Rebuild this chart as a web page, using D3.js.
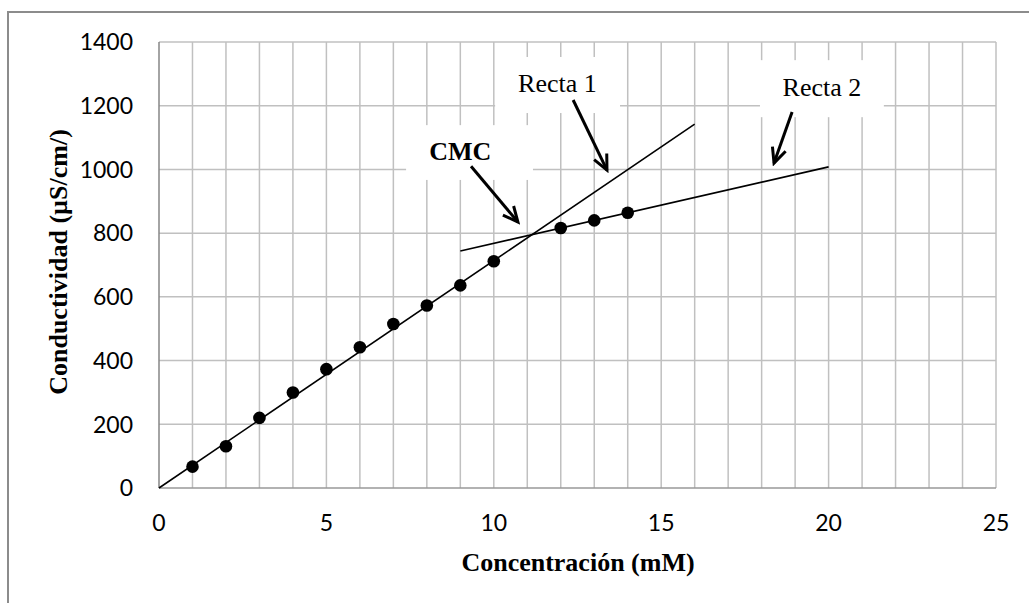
<!DOCTYPE html>
<html>
<head>
<meta charset="utf-8">
<script src="https://cdn.jsdelivr.net/npm/d3@7"></script>
<style>
  body { margin: 0; background: #fff; }
</style>
</head>
<body>
<div id="chart"></div>
<script>
'use strict';

// measured points (mM, µS/cm)
const concentracion = [1, 2, 3, 4, 5, 6, 7, 8, 9, 10, 12, 13, 14];
const conductividad = [67, 131, 220, 300, 373, 442, 515, 573, 636, 712, 816, 840, 864];

// fitted lines, end points
const recta1X = [0, 16];
const recta1Y = [0, 1142];
const recta2X = [9, 20];
const recta2Y = [744, 1008];

const xTicks = [0, 5, 10, 15, 20, 25];
const yTicks = [0, 200, 400, 600, 800, 1000, 1200, 1400];

// label boxes and arrows, in data units
const labels = [
  { text: 'Recta 1', bold: false, box: [10.04, 13.77, 1353, 1177], at: [11.9, 1243], from: [12.37, 1218], to: [13.38, 998] },
  { text: 'Recta 2', bold: false, box: [17.95, 21.65, 1343, 1164], at: [19.8, 1230], from: [18.91, 1180], to: [18.37, 1020] },
  { text: 'CMC', bold: true, box: [7.38, 11.17, 1139, 967], at: [9.0, 1029], from: [9.32, 1010], to: [10.72, 835] },
];

const width = 1029;
const height = 603;
const margin = { top: 42, right: 33, bottom: 115, left: 159 };

const x = d3.scaleLinear([0, 25], [margin.left, width - margin.right]);
const y = d3.scaleLinear([0, 1400], [height - margin.bottom, margin.top]);

const svg = d3.select('#chart')
  .append('svg')
  .attr('width', width)
  .attr('height', height);

svg.append('defs')
  .append('marker')
  .attr('id', 'arrow')
  .attr('viewBox', '0 0 20 20')
  .attr('markerUnits', 'userSpaceOnUse')
  .attr('markerWidth', 20)
  .attr('markerHeight', 20)
  .attr('refX', 17)
  .attr('refY', 10)
  .attr('orient', 'auto')
  .append('path')
  .attr('d', 'M2,3 L17,10 L2,17')
  .attr('fill', 'none')
  .attr('stroke', 'black')
  .attr('stroke-width', 3);

// outer chart border
svg.append('rect')
  .attr('x', 8)
  .attr('y', 12)
  .attr('width', width + 20)
  .attr('height', height + 20)
  .attr('fill', 'none')
  .attr('stroke', '#8c8c8c')
  .attr('stroke-width', 2);

// grid
svg.append('g')
  .selectAll('line')
  .data(d3.range(1, 26))
  .join('line')
  .attr('x1', (d) => x(d))
  .attr('x2', (d) => x(d))
  .attr('y1', y(0))
  .attr('y2', y(1400))
  .attr('stroke', '#c0c0c0')
  .attr('stroke-width', 1.5);

svg.append('g')
  .selectAll('line')
  .data(yTicks.slice(1))
  .join('line')
  .attr('x1', x(0))
  .attr('x2', x(25))
  .attr('y1', (d) => y(d))
  .attr('y2', (d) => y(d))
  .attr('stroke', '#c0c0c0')
  .attr('stroke-width', 1.5);

// axis lines
svg.append('line')
  .attr('x1', x(0)).attr('x2', x(0))
  .attr('y1', y(0)).attr('y2', y(1400))
  .attr('stroke', '#868686')
  .attr('stroke-width', 1.5);
svg.append('line')
  .attr('x1', x(0)).attr('x2', x(25))
  .attr('y1', y(0)).attr('y2', y(0))
  .attr('stroke', '#999')
  .attr('stroke-width', 1.5);

// tick labels
svg.append('g')
  .selectAll('text')
  .data(yTicks)
  .join('text')
  .attr('x', x(0) - 26)
  .attr('y', (d) => y(d))
  .attr('dy', '0.36em')
  .attr('text-anchor', 'end')
  .attr('font-family', 'Lato, sans-serif')
  .attr('font-size', '23px')
  .attr('fill', 'black')
  .text((d) => d);

svg.append('g')
  .selectAll('text')
  .data(xTicks)
  .join('text')
  .attr('x', (d) => x(d))
  .attr('y', y(0) + 35)
  .attr('dy', '0.36em')
  .attr('text-anchor', 'middle')
  .attr('font-family', 'Lato, sans-serif')
  .attr('font-size', '23px')
  .attr('fill', 'black')
  .text((d) => d);

// axis titles
svg.append('text')
  .attr('x', 578)
  .attr('y', 571)
  .attr('text-anchor', 'middle')
  .attr('font-family', '"Liberation Serif", "Times New Roman", serif')
  .attr('font-weight', 'bold')
  .attr('font-size', '26px')
  .text('Concentración (mM)');

svg.append('text')
  .attr('transform', 'translate(67, 262) rotate(-90)')
  .attr('text-anchor', 'middle')
  .attr('font-family', '"Liberation Serif", "Times New Roman", serif')
  .attr('font-weight', 'bold')
  .attr('font-size', '26px')
  .text('Conductividad (µS/cm/)');

// white label boxes hide the grid
svg.append('g')
  .selectAll('rect')
  .data(labels)
  .join('rect')
  .attr('x', (d) => x(d.box[0]))
  .attr('y', (d) => y(d.box[2]))
  .attr('width', (d) => x(d.box[1]) - x(d.box[0]))
  .attr('height', (d) => y(d.box[3]) - y(d.box[2]))
  .attr('fill', 'white');

// fitted lines
const fits = [
  { xs: recta1X, ys: recta1Y },
  { xs: recta2X, ys: recta2Y },
];
svg.append('g')
  .selectAll('line')
  .data(fits)
  .join('line')
  .attr('x1', (d) => x(d.xs[0]))
  .attr('x2', (d) => x(d.xs[1]))
  .attr('y1', (d) => y(d.ys[0]))
  .attr('y2', (d) => y(d.ys[1]))
  .attr('stroke', 'black')
  .attr('stroke-width', 1.6);

// points
svg.append('g')
  .selectAll('circle')
  .data(concentracion)
  .join('circle')
  .attr('cx', (d) => x(d))
  .attr('cy', (d, i) => y(conductividad[i]))
  .attr('r', 6.3)
  .attr('fill', 'black');

// labels and arrows
svg.append('g')
  .selectAll('text')
  .data(labels)
  .join('text')
  .attr('x', (d) => x(d.at[0]))
  .attr('y', (d) => y(d.at[1]))
  .attr('text-anchor', 'middle')
  .attr('font-family', '"Liberation Serif", "Times New Roman", serif')
  .attr('font-weight', (d) => d.bold ? 'bold' : 'normal')
  .attr('font-size', '26px')
  .text((d) => d.text);

svg.append('g')
  .selectAll('line')
  .data(labels)
  .join('line')
  .attr('x1', (d) => x(d.from[0]))
  .attr('y1', (d) => y(d.from[1]))
  .attr('x2', (d) => x(d.to[0]))
  .attr('y2', (d) => y(d.to[1]))
  .attr('stroke', 'black')
  .attr('stroke-width', 3)
  .attr('marker-end', 'url(#arrow)');
</script>
</body>
</html>
